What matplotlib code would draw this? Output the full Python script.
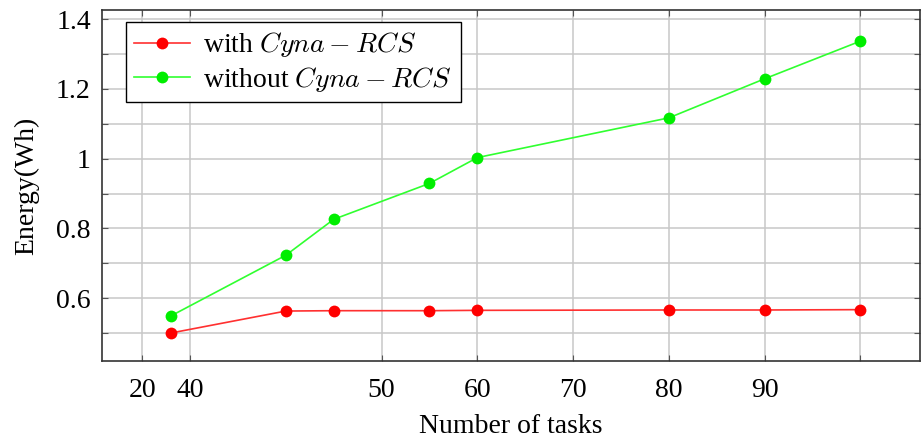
import matplotlib

matplotlib.use("Agg")

import matplotlib.pyplot as plt
from matplotlib.ticker import FixedLocator

# data
tasks = [28, 40, 45, 55, 60, 80, 90, 100]
energy_with = [0.50, 0.563, 0.564, 0.564, 0.565, 0.566, 0.566, 0.567]
energy_without = [0.549, 0.723, 0.826, 0.929, 1.003, 1.117, 1.229, 1.337]

x_ticks = [25, 30, 50, 60, 70, 80, 90, 100]
x_tick_labels = ["20", "40", "50", "60", "70", "80", "90", ""]
y_ticks = [0.6, 0.8, 1.0, 1.2, 1.4]
y_tick_labels = ["0.6", "0.8", "1", "1.2", "1.4"]
y_minor = [0.5, 0.7, 0.9, 1.1, 1.3]

plt.rcParams["font.family"] = ["Liberation Serif", "DejaVu Serif"]
plt.rcParams["mathtext.fontset"] = "cm"


def main():
    fig = plt.figure(figsize=(9.21, 4.38), dpi=100)
    ax = fig.add_axes([0.1107, 0.176, 0.888, 0.801])

    ax.plot(tasks, energy_with, color="#ff3030", lw=1.2, marker="o",
            markersize=8.5, markerfacecolor="#ff0000", markeredgewidth=0,
            label=r"with $Cyna-RCS$", zorder=3)
    ax.plot(tasks, energy_without, color="#30ff30", lw=1.2, marker="o",
            markersize=8.5, markerfacecolor="#00ee00", markeredgewidth=0,
            label=r"without $Cyna-RCS$", zorder=3)

    ax.set_xlim(20.8, 106.2)
    ax.set_ylim(0.42, 1.426)
    ax.set_xticks(x_ticks)
    ax.set_xticklabels(x_tick_labels)
    ax.set_yticks(y_ticks)
    ax.set_yticklabels(y_tick_labels)
    ax.yaxis.set_minor_locator(FixedLocator(y_minor))

    ax.grid(True, which="both", color="#c8c8c8", lw=1.1)
    ax.set_axisbelow(True)
    ax.tick_params(which="both", direction="in", top=True, right=True,
                   length=4, width=0.8, color="#555555", labelsize=20)
    ax.tick_params(axis="x", pad=12)
    ax.tick_params(axis="y", pad=8)
    for s in ax.spines.values():
        s.set_linewidth(1.2)
        s.set_color("#333333")

    ax.set_xlabel("Number of tasks", fontsize=20, labelpad=8)
    ax.set_ylabel("Energy(Wh)", fontsize=20, labelpad=12)

    leg = ax.legend(loc="upper left", bbox_to_anchor=(0.029, 0.966), fontsize=20,
                    fancybox=False, framealpha=1, edgecolor="black",
                    handlelength=2.0, borderpad=0.3, labelspacing=0.2,
                    handletextpad=0.5, borderaxespad=0)
    leg.get_frame().set_linewidth(1.0)

    fig.savefig("out.png", dpi=100)


if __name__ == "__main__":
    main()
